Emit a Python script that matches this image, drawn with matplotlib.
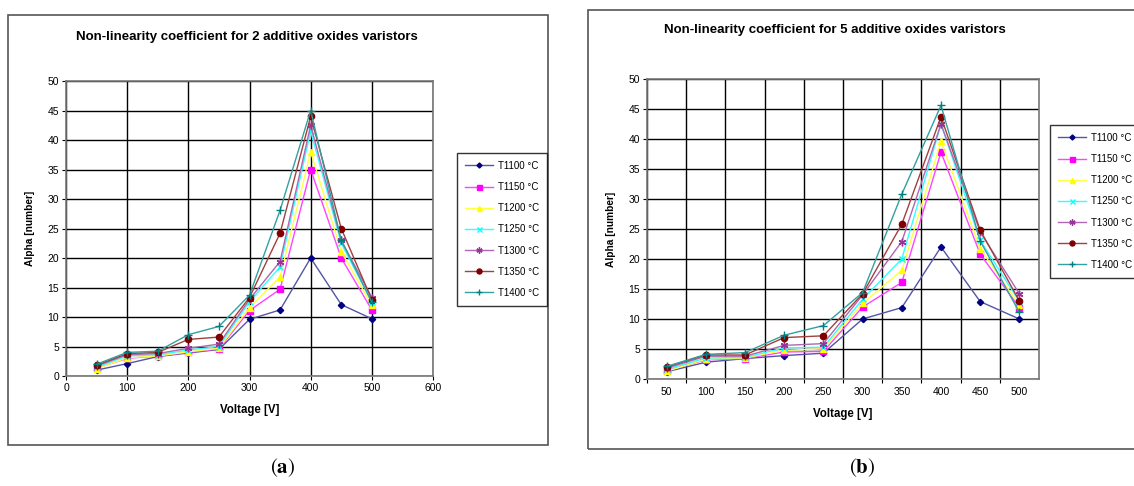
import numpy as np
import matplotlib
matplotlib.use('Agg')
import matplotlib.pyplot as plt
from matplotlib.patches import Rectangle

plt.rcParams['font.family'] = ['Liberation Sans', 'DejaVu Sans']
plt.rcParams['mathtext.fontset'] = 'stix'

W, H = 1134, 486

labels = ['T1100 °C', 'T1150 °C', 'T1200 °C', 'T1250 °C', 'T1300 °C', 'T1350 °C', 'T1400 °C']
colors = ['#000080', '#ff00ff', '#ffff00', '#00ffff', '#993399', '#800000', '#008080']
line_colors = ['#5555a5', '#ff44ff', '#ffff44', '#33ffff', '#b066b0', '#a04040', '#33a0a0']
markers = ['D', 's', '^', 'x', (6, 2, 0), 'o', '+']
msizes = [3.2, 4.5, 4.5, 4.5, 5.5, 4.5, 5.5]

# (a) 2 additive oxides
volt_a = [50, 100, 150, 200, 250, 300, 350, 400, 450, 500]
t1100_a = [1.0, 2.1, 3.3, 3.9, 4.5, 9.6, 11.2, 20.0, 12.1, 9.7]
t1150_a = [1.3, 3.0, 3.4, 4.0, 4.6, 11.1, 14.7, 35.0, 20.0, 11.2]
t1200_a = [1.2, 3.1, 3.4, 4.1, 4.7, 11.6, 16.8, 38.0, 21.1, 12.0]
t1250_a = [1.5, 3.4, 3.6, 4.4, 5.0, 12.6, 18.5, 41.5, 22.5, 12.5]
t1300_a = [1.7, 3.6, 3.8, 4.7, 5.4, 13.0, 19.4, 42.5, 23.0, 13.3]
t1350_a = [1.8, 3.8, 4.0, 6.2, 6.6, 13.3, 24.2, 44.0, 25.0, 12.9]
t1400_a = [2.0, 4.0, 4.2, 7.0, 8.4, 13.7, 28.1, 45.0, 23.0, 12.5]

# (b) 5 additive oxides
volt_b = ['50', '100', '150', '200', '250', '300', '350', '400', '450', '500']
t1100_b = [1.2, 2.8, 3.4, 3.9, 4.3, 10.0, 11.9, 22.0, 12.9, 10.0]
t1150_b = [1.4, 3.2, 3.4, 4.5, 4.6, 12.0, 16.1, 37.8, 20.8, 11.9]
t1200_b = [1.3, 3.3, 3.5, 4.8, 5.0, 12.6, 18.1, 39.6, 21.7, 12.3]
t1250_b = [1.6, 3.5, 3.6, 5.2, 5.3, 13.3, 20.0, 42.5, 23.1, 12.9]
t1300_b = [1.8, 3.8, 3.8, 5.6, 5.9, 14.0, 22.9, 42.5, 24.5, 14.2]
t1350_b = [2.0, 4.0, 4.0, 6.9, 7.2, 14.2, 25.8, 43.7, 24.8, 13.0]
t1400_b = [2.1, 4.1, 4.4, 7.3, 8.9, 14.4, 30.8, 45.6, 23.0, 11.1]

series_a = [t1100_a, t1150_a, t1200_a, t1250_a, t1300_a, t1350_a, t1400_a]
series_b = [t1100_b, t1150_b, t1200_b, t1250_b, t1300_b, t1350_b, t1400_b]


def px_axes(fig, x0, y0, x1, y1):
    return fig.add_axes([x0 / W, 1 - y1 / H, (x1 - x0) / W, (y1 - y0) / H])


def px_box(fig, x0, y0, x1, y1):
    fig.patches.append(Rectangle((x0 / W, 1 - y1 / H), (x1 - x0) / W, (y1 - y0) / H,
                                 transform=fig.transFigure, fill=False,
                                 edgecolor='#555555', lw=1.2))


def style_axes(ax):
    ax.set_ylim(0, 50)
    ax.set_yticks(np.arange(0, 51, 5))
    ax.grid(True, color='black', lw=1.0)
    ax.set_axisbelow(True)
    for s in ax.spines.values():
        s.set_color('#777777')
        s.set_linewidth(1.2)
    ax.tick_params(labelsize=7.5, length=3, width=0.8, direction='out', pad=2)
    ax.set_ylabel('Alpha [number]', fontsize=7.3, fontweight='bold', labelpad=9)
    ax.set_xlabel('Voltage [V]', fontsize=8.3, fontweight='bold', labelpad=8)


def plot_series(ax, x, series):
    handles = []
    for y, c, lc, m, ms, lab in zip(series, colors, line_colors, markers, msizes, labels):
        h, = ax.plot(x, y, color=lc, lw=1.0, marker=m, ms=ms, mfc=c, mec=c,
                     mew=1.0, label=lab, clip_on=False, zorder=3)
        handles.append(h)
    return handles


def add_legend(fig, handles, x, y):
    fig.legend(handles=handles, loc='upper left', bbox_to_anchor=(x / W, 1 - y / H),
               fontsize=7, frameon=True, fancybox=False, edgecolor='black',
               labelspacing=1.15, handlelength=2.9, handletextpad=0.5, borderpad=0.8,
               borderaxespad=0, markerscale=0.8)


fig = plt.figure(figsize=(W / 100, H / 100), dpi=100)

# panel (a)
px_box(fig, 8, 15, 548, 445)
ax1 = px_axes(fig, 66, 81, 433, 376)
style_axes(ax1)
ax1.set_xlim(0, 600)
ax1.set_xticks(np.arange(0, 601, 100))
h1 = plot_series(ax1, volt_a, series_a)
fig.text(247 / W, 1 - 37 / H, 'Non-linearity coefficient for 2 additive oxides varistors',
         ha='center', va='center', fontsize=9.5, fontweight='bold')
add_legend(fig, h1, 457, 153)
fig.text(283 / W, 1 - 468 / H, r'$(\mathbf{a})$', ha='center', va='center', fontsize=15)

# panel (b)
px_box(fig, 588, 10, 1150, 449)
ax2 = px_axes(fig, 647, 79, 1039, 379)
style_axes(ax2)
pos = np.arange(len(volt_b))
ax2.set_xlim(-0.5, len(volt_b) - 0.5)
ax2.set_xticks(pos - 0.5, minor=False)
ax2.set_xticklabels([''] * len(pos))
ax2.set_xticks(pos, minor=True)
ax2.set_xticklabels(volt_b, minor=True)
ax2.tick_params(axis='x', which='minor', length=0, labelsize=7.5, pad=6)
ax2.xaxis.grid(True, which='major', color='black', lw=1.0)
h2 = plot_series(ax2, pos, series_b)
fig.text(835 / W, 1 - 30 / H, 'Non-linearity coefficient for 5 additive oxides varistors',
         ha='center', va='center', fontsize=9.5, fontweight='bold')
add_legend(fig, h2, 1050, 125)
fig.text(862 / W, 1 - 468 / H, r'$(\mathbf{b})$', ha='center', va='center', fontsize=15)

fig.savefig('out.png', dpi=100, facecolor='white')
